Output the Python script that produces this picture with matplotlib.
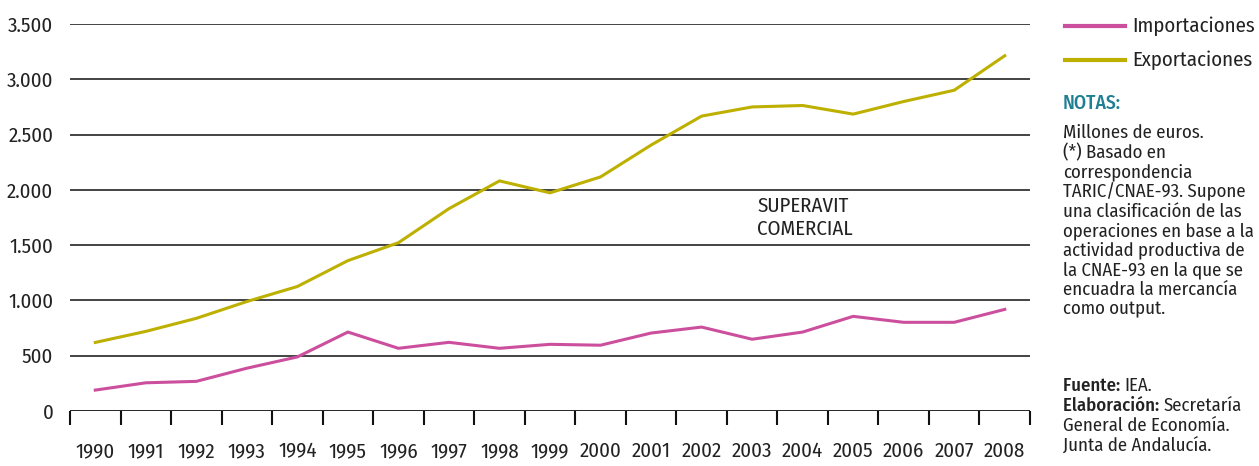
import numpy as np
import matplotlib.pyplot as plt
from matplotlib.lines import Line2D

plt.rcParams["font.family"] = ["Fira Sans Condensed", "DejaVu Sans"]

# datos (millones de euros)
years = [str(y) for y in range(1990, 2009)]
importaciones = [189, 255, 268, 387, 489, 714, 567, 621, 567, 603, 595,
                 705, 759, 649, 714, 856, 802, 802, 919]
exportaciones = [620, 720, 838, 990, 1126, 1360, 1522, 1830, 2081, 1973, 2117,
                 2405, 2667, 2750, 2763, 2685, 2799, 2901, 3213]
yticks = [0, 500, 1000, 1500, 2000, 2500, 3000, 3500]
ytick_labels = ["0", "500", "1.000", "1.500", "2.000", "2.500", "3.000", "3.500"]

col_imp = "#cc4f9e"
col_exp = "#bdb000"
col_notas = "#1f7f93"
txt_col = "#222222"

W, H = 1259, 466
fig = plt.figure(figsize=(W / 100, H / 100), dpi=100)
ax = fig.add_axes([70 / W, 1 - 411 / H, 960 / W, (411 - 24) / H])

x = np.arange(len(years))
ax.plot(x, importaciones, color=col_imp, lw=2.2, zorder=3)
ax.plot(x, exportaciones, color=col_exp, lw=2.2, zorder=3)

ax.set_xlim(-0.5, len(years) - 0.5)
ax.set_ylim(0, 3500)

# rejilla horizontal
for v in yticks[1:]:
    ax.axhline(v, color="#111111", lw=1.1, zorder=1)
ax.axhline(0, color="#111111", lw=2.0, zorder=2)

for s in ax.spines.values():
    s.set_visible(False)

ax.set_yticks(yticks)
ax.set_yticklabels(ytick_labels, fontsize=15, color=txt_col)
ax.tick_params(axis="y", length=0, pad=12)

ax.set_xticks(x)
ax.set_xticklabels(years, fontsize=15, color=txt_col)
ax.set_xticks(np.arange(-0.5, len(years)), minor=True)
ax.tick_params(axis="x", which="major", length=0, pad=22)
ax.tick_params(axis="x", which="minor", length=10, width=1.5, color="#111111", direction="out")

ax.text(13.1, 1745, "SUPERAVIT\nCOMERCIAL", fontsize=15, color=txt_col,
        ha="left", va="center", linespacing=1.2)

# leyenda
def fy(py):
    return 1 - py / H

for py, lab, c in [(26, "Importaciones", col_imp), (60, "Exportaciones", col_exp)]:
    fig.add_artist(Line2D([1065 / W, 1125 / W], [fy(py), fy(py)], color=c, lw=3))
    fig.text(1132 / W, fy(py), lab, fontsize=15, color=txt_col, va="center")

# notas
fx = 1063 / W
fs = 13.5
fig.text(fx, fy(103), "NOTAS:", fontsize=14, color=col_notas, fontweight="medium", va="center")
notas = ["Millones de euros.", "(*) Basado en", "correspondencia",
         "TARIC/CNAE-93. Supone", "una clasificación de las",
         "operaciones en base a la", "actividad productiva de",
         "la CNAE-93 en la que se", "encuadra la mercancía", "como output."]
for i, t in enumerate(notas):
    fig.text(fx, fy(133 + i * 19.6), t, fontsize=fs, color=txt_col, va="center")

t1 = fig.text(fx, fy(386), "Fuente: ", fontsize=fs, color=txt_col, fontweight="medium", va="center")
t2 = fig.text(fx, fy(406), "Elaboración: ", fontsize=fs, color=txt_col, fontweight="medium", va="center")
fig.canvas.draw()
r = fig.canvas.get_renderer()
w1 = t1.get_window_extent(r).width / W
w2 = t2.get_window_extent(r).width / W
fig.text(fx + w1, fy(386), "IEA.", fontsize=fs, color=txt_col, va="center")
fig.text(fx + w2, fy(406), "Secretaría", fontsize=fs, color=txt_col, va="center")
fig.text(fx, fy(426), "General de Economía.", fontsize=fs, color=txt_col, va="center")
fig.text(fx, fy(446), "Junta de Andalucía.", fontsize=fs, color=txt_col, va="center")

fig.savefig("out.png", dpi=100)
